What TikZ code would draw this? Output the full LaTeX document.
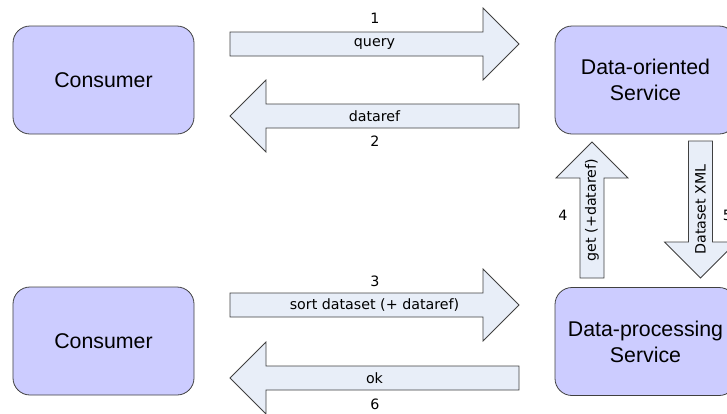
\documentclass[tikz,border=0pt]{standalone}
\usepackage{fontspec}
\setmainfont{Liberation Sans}
\newfontfamily\lblfont{DejaVu Sans}
\usetikzlibrary{calc}
\definecolor{boxfill}{RGB}{204,204,255}
\definecolor{arrfill}{RGB}{232,238,248}
\definecolor{edge}{RGB}{64,64,64}
\tikzset{
  svcbox/.style={draw=edge, line width=0.8bp, fill=boxfill, rounded corners=17bp,
    minimum width=181bp, minimum height=108bp, align=center, inner sep=0pt,
    font=\fontsize{21.4}{26}\selectfont},
  blk/.style={draw=edge, line width=0.8bp, fill=arrfill, line join=miter},
  lbl/.style={inner sep=0pt, font=\lblfont\fontsize{14.3}{16}\selectfont},
}
\newcommand\blockarrow[2]{%
  \coordinate (hh) at ($(#2)!36bp!(#1)$);
  \draw[blk] ($(#1)!12bp!90:(#2)$) -- ($(hh)!12bp!90:(#2)$) -- ($(hh)!36bp!90:(#2)$)
    -- (#2) -- ($(hh)!36bp!-90:(#2)$) -- ($(hh)!12bp!-90:(#2)$)
    -- ($(#1)!12bp!-90:(#2)$) -- cycle;
}
\begin{document}
\begin{tikzpicture}[x=1bp,y=-1bp]
\useasboundingbox (0,0) rectangle (727,413);
% boxes
\node[svcbox] (cons1) at (103.5,80) {Consumer};
\node[svcbox] (dos) at (645.5,80) {Data-oriented\\Service};
\node[svcbox] (cons2) at (103.5,341) {Consumer};
\node[svcbox] (dps) at (645.5,341.5) {Data-processing\\Service};
% arrow end points
\coordinate (qA) at (230,44);   \coordinate (qB) at (519,44);
\coordinate (dA) at (519,116);  \coordinate (dB) at (230,116);
\coordinate (sA) at (230,305);  \coordinate (sB) at (519,305);
\coordinate (oA) at (519,378);  \coordinate (oB) at (230,378);
\coordinate (gA) at (592,278);  \coordinate (gB) at (592,142);
\coordinate (xA) at (700.5,141);\coordinate (xB) at (700.5,278);
\blockarrow{qA}{qB}
\blockarrow{dA}{dB}
\blockarrow{sA}{sB}
\blockarrow{oA}{oB}
\blockarrow{gA}{gB}
\blockarrow{xA}{xB}
% labels inside arrows
\node[lbl] (tq) at ($(qA)!0.5!(qB)$) {query};
\node[lbl] (td) at ($(dA)!0.5!(dB)$) {dataref};
\node[lbl] (ts) at ($(sA)!0.5!(sB)$) {sort dataset (+ dataref)};
\node[lbl] (to) at ($(oA)!0.5!(oB)$) {ok};
\node[lbl, rotate=90] (tg) at ($(gA)!0.5!(gB)$) {get (+dataref)};
\node[lbl, rotate=90] (tx) at ($(xA)!0.5!(xB)$) {Dataset XML};
% step numbers
\node[lbl] (n1) at (375,18.5) {1};
\node[lbl] (n2) at (375,141.5) {2};
\node[lbl] (n3) at (375,281.5) {3};
\node[lbl] (n6) at (375,404) {6};
\node[lbl] (n4) at (563,215) {4};
\node[lbl] (n5) at (727.5,215) {5};
\end{tikzpicture}
\end{document}
